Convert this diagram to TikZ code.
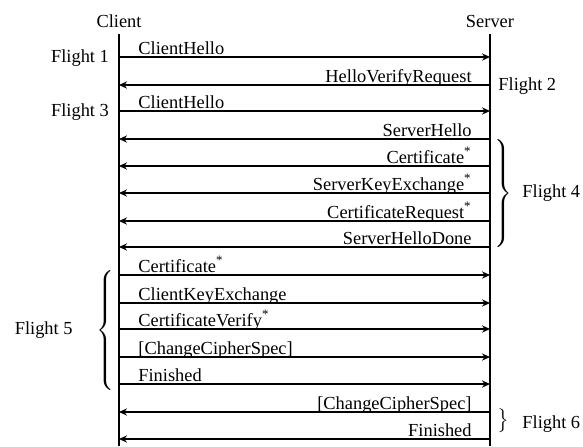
\documentclass[tikz,border=0pt]{standalone}
\usepackage{fontspec}
\setmainfont{Liberation Serif}
\usetikzlibrary{arrows.meta}
% extensible braces of a given height
\newcommand{\closingbrace}[1]{$\delimiterfactor=1000\delimitershortfall=0pt
  \left.\vcenter{\hbox{\rule{0pt}{#1}}}\right\}$}
\newcommand{\openingbrace}[1]{$\delimiterfactor=1000\delimitershortfall=0pt
  \left\{\vcenter{\hbox{\rule{0pt}{#1}}}\right.$}
\begin{document}
\begin{tikzpicture}[x=0.5pt,y=-0.5pt,
  font=\fontsize{9.2}{11}\selectfont,
  life/.style={line width=0.75pt},
  msg/.style={line width=0.6pt,-{Stealth[length=4pt,width=3.6pt]}},
  boldmsg/.style={msg,line width=1.1pt},
  clbl/.style={anchor=base west,inner sep=0pt},
  slbl/.style={anchor=base east,inner sep=0pt},
  party/.style={inner sep=0pt},
  flight/.style={inner sep=0pt},
  grp/.style={inner sep=0pt}]
\useasboundingbox (0,0) rectangle (583,446);

% participants and lifelines
\node[party] (client) at (119,21) {Client};
\node[party] (server) at (490,21) {Server};
\coordinate (ctop) at (119,34);
\coordinate (cbot) at (119,446);
\coordinate (stop) at (490,34);
\coordinate (sbot) at (490,446);
\draw[life] (ctop) -- (cbot);
\draw[life] (stop) -- (sbot);

% message rows
\foreach \i/\y in {1/57,2/85,3/111,4/139,5/166,6/193,7/221,8/247,
                   9/275,10/303,11/329,12/357,13/384,14/412,15/439} {
  \coordinate (c\i) at (119,\y);
  \coordinate (s\i) at (490,\y);
}

% flight 1
\draw[msg] (c1) -- (s1);
\node[clbl] (m1) at (138,54.5) {ClientHello};
% flight 2
\draw[msg] (s2) -- (c2);
\node[slbl] (m2) at (472,82.5) {HelloVerifyRequest};
% flight 3
\draw[msg] (c3) -- (s3);
\node[clbl] (m3) at (138,108.5) {ClientHello};
% flight 4
\draw[msg] (s4) -- (c4);
\node[slbl] (m4) at (472,136.5) {ServerHello};
\draw[msg] (s5) -- (c5);
\node[slbl] (m5) at (472,163.5) {Certificate\textsuperscript{*}};
\draw[msg] (s6) -- (c6);
\node[slbl] (m6) at (472,190.5) {ServerKeyExchange\textsuperscript{*}};
\draw[msg] (s7) -- (c7);
\node[slbl] (m7) at (472,218.5) {CertificateRequest\textsuperscript{*}};
\draw[boldmsg] (s8) -- (c8);
\node[slbl] (m8) at (472,244.5) {ServerHelloDone};
% flight 5
\draw[msg] (c9) -- (s9);
\node[clbl] (m9) at (138,272.5) {Certificate\textsuperscript{*}};
\draw[msg] (c10) -- (s10);
\node[clbl] (m10) at (138,300.5) {ClientKeyExchange};
\draw[msg] (c11) -- (s11);
\node[clbl] (m11) at (138,326.5) {CertificateVerify\textsuperscript{*}};
\draw[msg] (c12) -- (s12);
\node[clbl] (m12) at (138,354.5) {[ChangeCipherSpec]};
\draw[boldmsg] (c13) -- (s13);
\node[clbl] (m13) at (138,381.5) {Finished};
% flight 6
\draw[msg] (s14) -- (c14);
\node[slbl] (m14) at (472,409.5) {[ChangeCipherSpec]};
\draw[msg] (s15) -- (c15);
\node[slbl] (m15) at (472,436.5) {Finished};

% flight labels and braces
\node[flight] (f1) at (80,58) {Flight 1};
\node[flight] (f3) at (80,112) {Flight 3};
\node[flight, anchor=west] (f2) at (498,86) {Flight 2};
\node[grp] (b4) at (502,193) {\closingbrace{53pt}};
\node[flight, anchor=west] (f4) at (522,193) {Flight 4};
\node[grp] (b5) at (107,330) {\openingbrace{55pt}};
\node[flight, anchor=east] (f5) at (73,330) {Flight 5};
\node[grp] (b6) at (502,421) {\closingbrace{11pt}};
\node[flight, anchor=west] (f6) at (522,424) {Flight 6};
\end{tikzpicture}
\end{document}
